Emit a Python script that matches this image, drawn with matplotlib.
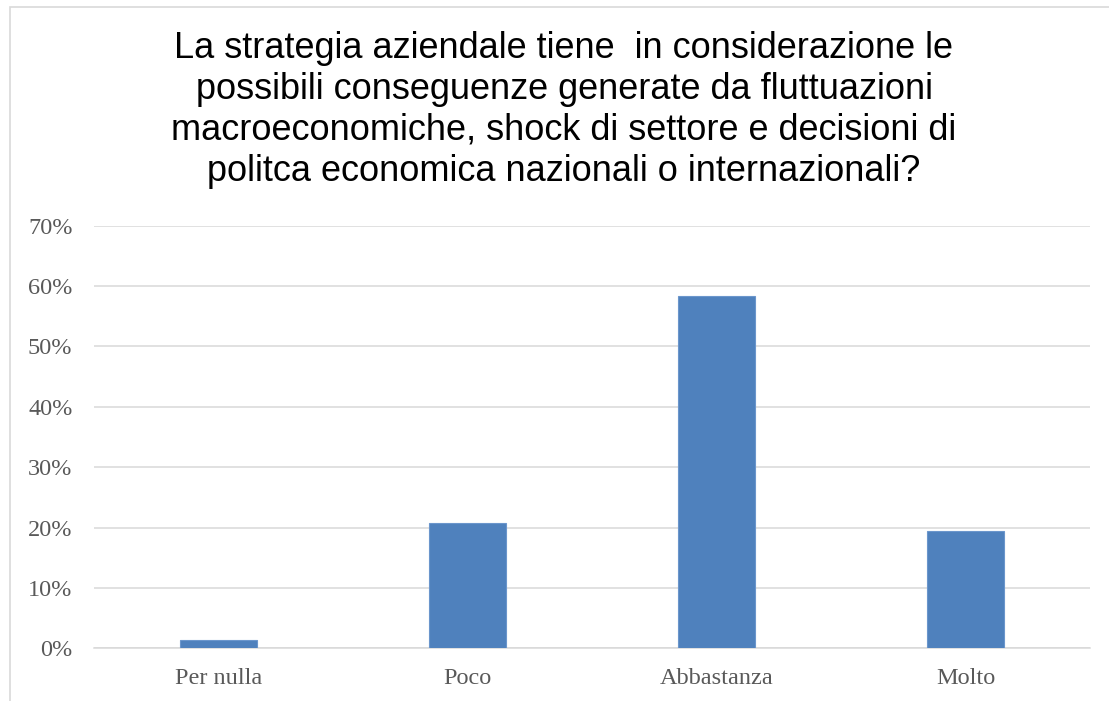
import matplotlib.pyplot as plt
from matplotlib.patches import Rectangle
from matplotlib.ticker import PercentFormatter

# data
categories = ['Per nulla', 'Poco', 'Abbastanza', 'Molto']
values = [0.014, 0.208, 0.583, 0.194]
yticks = [0.0, 0.1, 0.2, 0.3, 0.4, 0.5, 0.6, 0.7]
title = ("La strategia aziendale tiene  in considerazione le\n"
         "possibili conseguenze generate da fluttuazioni\n"
         "macroeconomiche, shock di settore e decisioni di\n"
         "politca economica nazionali o internazionali?")

fig = plt.figure(figsize=(11.09, 7.01), dpi=100)
ax = fig.add_axes([94/1109, 52.7/701, (1090-94)/1109, 422.6/701])

ax.bar(range(len(categories)), values, width=0.313, color='#4f81bd',
       edgecolor='#6b96cc', linewidth=0.8, zorder=3)

ax.set_xlim(-0.5, 3.5)
ax.set_ylim(0, 0.7)
ax.set_yticks(yticks)
ax.yaxis.set_major_formatter(PercentFormatter(1.0, decimals=0))
ax.set_xticks(range(len(categories)))
ax.set_xticklabels(categories)
ax.grid(axis='y', color='#d9d9d9', linewidth=1.1, zorder=0)
ax.tick_params(length=0, labelsize=17.5, labelcolor='#595959')
ax.tick_params(axis='x', pad=14.5)
ax.tick_params(axis='y', pad=15.5)
for lab in ax.get_xticklabels() + ax.get_yticklabels():
    lab.set_family('Liberation Serif')
for s in ['top', 'right', 'left']:
    ax.spines[s].set_visible(False)
ax.spines['bottom'].set_color('#d9d9d9')
ax.spines['bottom'].set_linewidth(1.1)

fig.text(564/1109, 1 - 110/701, title, ha='center', va='center',
         fontsize=26, family='Liberation Sans', color='black', linespacing=1.22)

# chart border
fig.patches.append(Rectangle((10/1109, -0.02), 1.0, 1 - 7/701 + 0.02,
                             transform=fig.transFigure, fill=False,
                             edgecolor='#d9d9d9', linewidth=1.2))

fig.savefig('out.png', dpi=100)
